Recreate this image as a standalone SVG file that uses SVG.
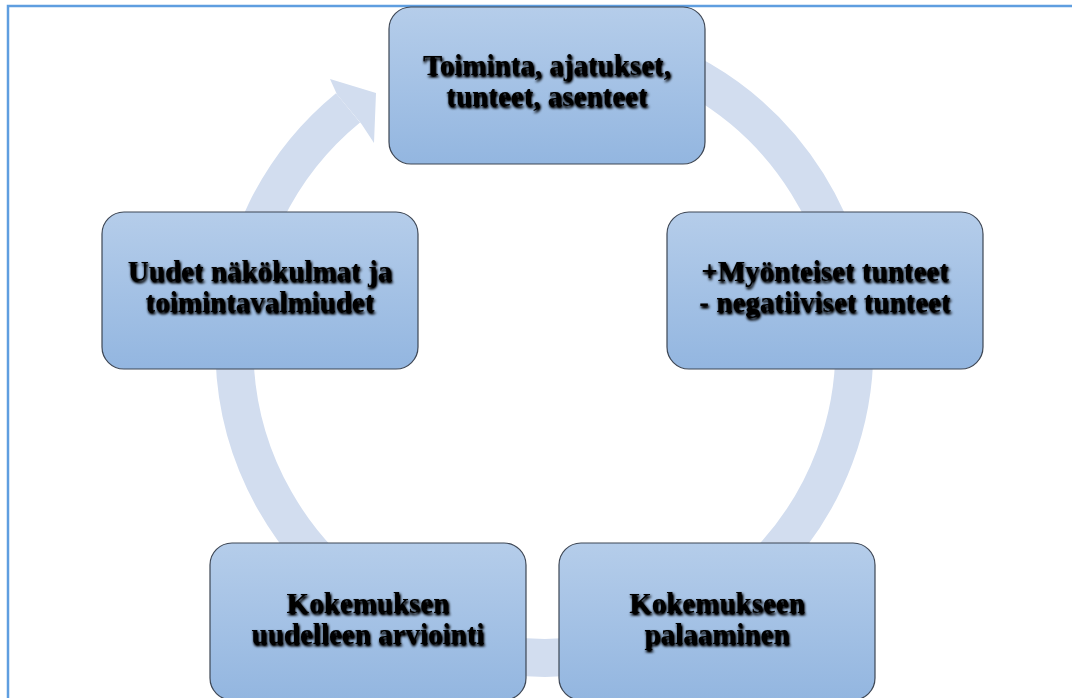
<svg xmlns="http://www.w3.org/2000/svg" width="1072" height="698" viewBox="0 0 1072 698">
  <defs>
    <linearGradient id="boxGrad" x1="0" y1="0" x2="0" y2="1">
      <stop offset="0" stop-color="#b5cdea"/>
      <stop offset="1" stop-color="#93b6e0"/>
    </linearGradient>
    <filter id="txtShadow" x="-10%" y="-30%" width="120%" height="160%">
      <feGaussianBlur in="SourceAlpha" stdDeviation="1.6" result="b"/>
      <feOffset in="b" dx="1" dy="1.5" result="o"/>
      <feComponentTransfer in="o" result="s">
        <feFuncA type="linear" slope="1.6"/>
      </feComponentTransfer>
      <feMerge>
        <feMergeNode in="s"/>
        <feMergeNode in="SourceGraphic"/>
      </feMerge>
    </filter>
    <style>
      .box { fill: url(#boxGrad); stroke: #3d4654; stroke-width: 1.2; }
      .lbl { font-family: "Liberation Serif", "Times New Roman", serif; font-weight: bold; font-size: 29px; fill: #000; text-anchor: middle; filter: url(#txtShadow); }
      .ring { fill: none; stroke: #d2ddef; stroke-width: 38; }
      .head { fill: #d2ddef; }
    </style>
  </defs>
  <rect x="0" y="0" width="1072" height="698" fill="#ffffff"/>
  <rect x="8" y="6" width="1090" height="730" fill="none" stroke="#5f9ee0" stroke-width="2.5"/>

  <g id="connectors">
    <path class="ring" d="M 574 39.2 A 310 310 0 1 1 348.0 107.9"/>
    <polygon class="head" points="337,94.5 330,79 376,93 374,143 361.5,124"/>
  </g>

  <g id="node-top">
    <rect class="box" x="389" y="7" width="316" height="157" rx="22"/>
    <text class="lbl" x="547" y="75">Toiminta, ajatukset,</text>
    <text class="lbl" x="547" y="106">tunteet, asenteet</text>
  </g>
  <g id="node-right">
    <rect class="box" x="667" y="212" width="316" height="157" rx="22"/>
    <text class="lbl" x="825" y="281">+Myönteiset tunteet</text>
    <text class="lbl" x="825" y="312">- negatiiviset tunteet</text>
  </g>
  <g id="node-bottom-right">
    <rect class="box" x="559" y="543" width="316" height="157" rx="22"/>
    <text class="lbl" x="717" y="613">Kokemukseen</text>
    <text class="lbl" x="717" y="644">palaaminen</text>
  </g>
  <g id="node-bottom-left">
    <rect class="box" x="210" y="543" width="316" height="157" rx="22"/>
    <text class="lbl" x="368" y="613">Kokemuksen</text>
    <text class="lbl" x="368" y="644">uudelleen arviointi</text>
  </g>
  <g id="node-left">
    <rect class="box" x="102" y="212" width="316" height="157" rx="22"/>
    <text class="lbl" x="260" y="281">Uudet näkökulmat ja</text>
    <text class="lbl" x="260" y="312">toimintavalmiudet</text>
  </g>
</svg>
